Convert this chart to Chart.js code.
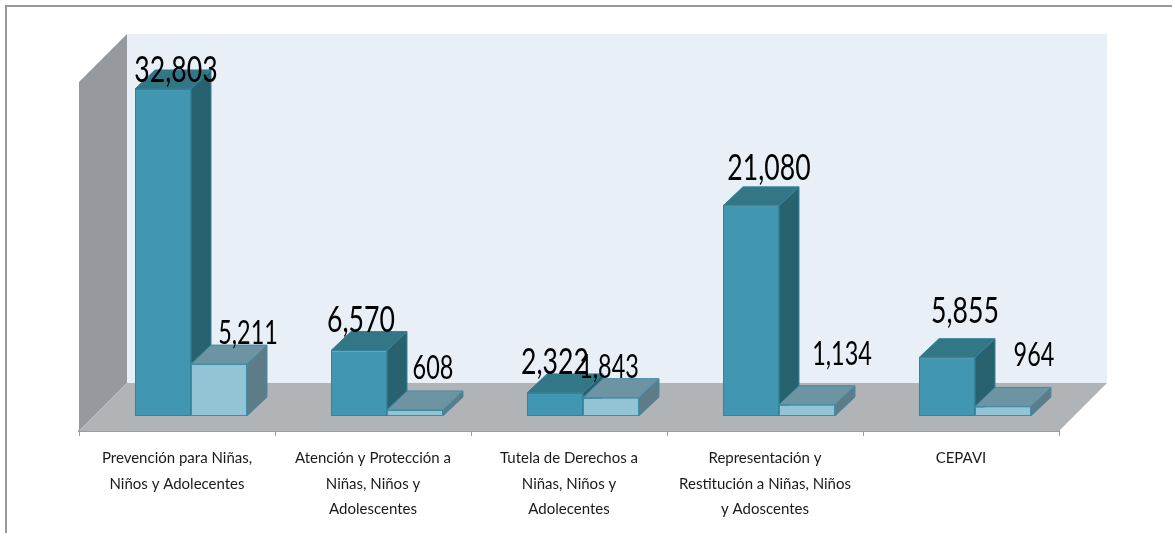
<!DOCTYPE html>
<html><head><meta charset="utf-8">
<style>
html,body{margin:0;padding:0;background:#fff;overflow:hidden}
#frame{position:absolute;left:5px;top:5px;width:1167px;height:528px;border-top:2px solid #999;border-left:2px solid #999;box-sizing:border-box}
#wrap{position:absolute;left:0;top:0;width:1172px;height:533px}
</style>
<script src="https://cdn.jsdelivr.net/npm/chart.js@4"></script>
</head><body>
<div id="frame"></div>
<div id="wrap"><canvas id="c"></canvas></div>
<script>
const categories = [
  ["Prevención para Niñas,","Niños y Adolecentes"],
  ["Atención y Protección a","Niñas, Niños y","Adolescentes"],
  ["Tutela de Derechos a","Niñas, Niños y","Adolecentes"],
  ["Representación y","Restitución a Niñas, Niños","y Adoscentes"],
  ["CEPAVI"]
];
const seriesA = [32803, 6570, 2322, 21080, 5855];
const seriesB = [5211, 608, 1843, 1134, 964];
const axisMin = -1500, axisMax = 33500;

// label nudges from each bar's front-top centre
const nudgeA = [[13,-7],[2,-19],[0,-19],[18,-26],[18,-35]];
const nudgeB = [[29,-20],[18,-31],[-2,-20],[35,-40],[31,-40]];

const FLOOR_DEPTH = 48, BAR_DX = 20, BAR_DY = 19, BAR_SHIFT = 14;
const styleA = {front:'#4196B2', edge:'#35829B', side:'#28626F', top:'#337686'};
const styleB = {front:'#93C4D6', edge:'#3F8CA5', side:'#5D7C88', top:'#6C94A3'};

function poly(ctx, pts, fill, stroke){
  ctx.beginPath();
  pts.forEach((p,i)=> i ? ctx.lineTo(p[0],p[1]) : ctx.moveTo(p[0],p[1]));
  ctx.closePath();
  ctx.fillStyle = fill; ctx.fill();
  if (stroke){ ctx.strokeStyle = stroke; ctx.lineWidth = 1; ctx.stroke(); }
}
function faces(ctx, meta, st){
  meta.data.forEach(b=>{
    const w = b.width/2, l=b.x-w+BAR_SHIFT, r=b.x+w+BAR_SHIFT, t=b.y, g=b.base;
    poly(ctx,[[r,t],[r+BAR_DX,t-BAR_DY],[r+BAR_DX,g-BAR_DY],[r,g]],st.side,st.edge);
    poly(ctx,[[l,t],[r,t],[r+BAR_DX,t-BAR_DY],[l+BAR_DX,t-BAR_DY]],st.top,st.edge);
  });
}

const threeD = {
  id:'threeD',
  beforeDatasetsDraw(chart){
    const {ctx, chartArea:a} = chart, d = FLOOR_DEPTH;
    poly(ctx,[[a.left+d,a.top-d],[a.right+d,a.top-d],[a.right+d,a.bottom-d],[a.left+d,a.bottom-d]],'#E8EFF6');
    poly(ctx,[[a.left,a.top],[a.left+d,a.top-d],[a.left+d,a.bottom-d],[a.left,a.bottom]],'#96999D');
    poly(ctx,[[a.left,a.bottom],[a.right,a.bottom],[a.right+d,a.bottom-d],[a.left+d,a.bottom-d]],'#B1B4B7');
    // first series is painted last by the library, so its depth faces go down first
    faces(ctx, chart.getDatasetMeta(0), styleA);
  },
  beforeDatasetDraw(chart){
    chart.ctx.save();
    chart.ctx.translate(BAR_SHIFT,0);
  },
  afterDatasetDraw(chart,args){
    const ctx = chart.ctx;
    ctx.restore();
    if (args.index===1) faces(ctx, args.meta, styleB);
  },
  afterDatasetsDraw(chart){
    const ctx = chart.ctx;
    const sets = [[0,seriesA,nudgeA,37,0.72],[1,seriesB,nudgeB,33,0.71]];
    ctx.save();
    ctx.fillStyle='#000'; ctx.textAlign='center'; ctx.textBaseline='alphabetic';
    sets.forEach(([i,vals,nudge,size,sx])=>{
      chart.getDatasetMeta(i).data.forEach((b,k)=>{
        ctx.save();
        ctx.translate(b.x+BAR_SHIFT+nudge[k][0], b.y+nudge[k][1]);
        ctx.scale(sx,1);
        ctx.font = size+'px Lato';
        ctx.fillText(vals[k].toLocaleString('en-US'),0,0);
        ctx.restore();
      });
    });
    ctx.restore();
  }
};

new Chart(document.getElementById('c'),{
  type:'bar',
  data:{labels:categories,datasets:[
    {data:seriesA,backgroundColor:styleA.front,borderColor:styleA.edge,borderWidth:1,borderSkipped:false,clip:false},
    {data:seriesB,backgroundColor:styleB.front,borderColor:styleB.edge,borderWidth:1,borderSkipped:false,clip:false}
  ]},
  options:{
    responsive:true,maintainAspectRatio:false,animation:false,
    layout:{padding:{left:79,right:113,top:82,bottom:0}},
    plugins:{legend:{display:false},title:{display:false},tooltip:{enabled:false}},
    datasets:{bar:{categoryPercentage:0.5714,barPercentage:1}},
    scales:{
      x:{
        afterFit(s){s.height=102;},
        border:{display:true,color:'#9A9C9E',width:2},
        grid:{drawOnChartArea:false,drawTicks:true,tickLength:5,color:'#9A9C9E',offset:true},
        ticks:{color:'#1a1a1a',font:{family:'Lato',size:15,lineHeight:1.72},padding:9,maxRotation:0,minRotation:0,autoSkip:false}
      },
      y:{display:false,min:axisMin,max:axisMax}
    }
  },
  plugins:[threeD]
});
</script>
</body></html>
